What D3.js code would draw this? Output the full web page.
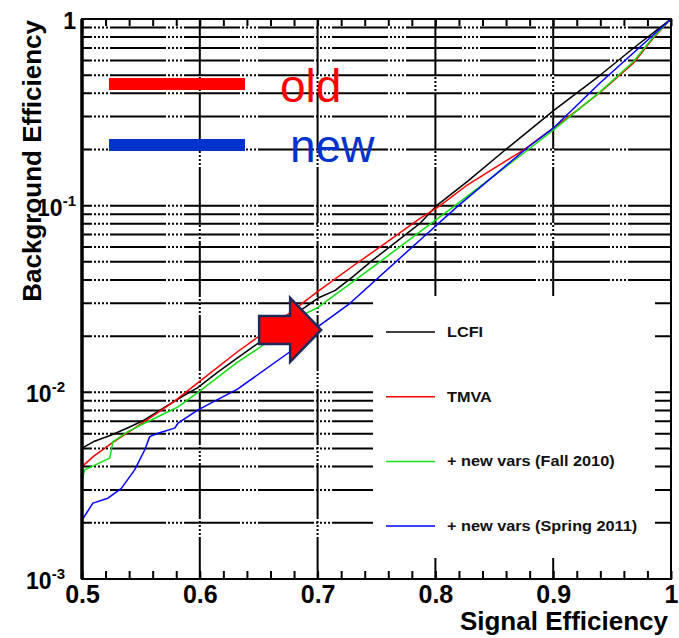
<!DOCTYPE html>
<html>
<head>
<meta charset="utf-8">
<script src="https://cdn.jsdelivr.net/npm/d3@7/dist/d3.min.js"></script>
<style>
	body { margin: 0; background: #fff; }
	text { font-family: "Liberation Sans", Arial, Helvetica, sans-serif; }
</style>
</head>
<body>
<div id="chart"></div>
<script>
// ROC curves: signal efficiency vs background efficiency
var sig_lcfi= [0.500, 0.510, 0.525, 0.540, 0.553, 0.570, 0.585, 0.598, 0.615, 0.632, 0.651, 0.668, 0.685, 0.700, 0.715, 0.730, 0.747, 0.776, 0.787, 0.801, 0.827, 0.861, 0.900, 0.940, 0.968, 1.000];
var bkg_lcfi= [0.00502, 0.00545, 0.00591, 0.00650, 0.00711, 0.00830, 0.00950, 0.01056, 0.0128, 0.0153, 0.0186, 0.0225, 0.0273, 0.0319, 0.0352, 0.0417, 0.0512, 0.0711, 0.0805, 0.100, 0.1345, 0.203, 0.322, 0.501, 0.697, 1.0];

var sig_tmva= [0.500, 0.510, 0.525, 0.553, 0.578, 0.598, 0.632, 0.651, 0.685, 0.700, 0.730, 0.760, 0.787, 0.804, 0.827, 0.850, 0.875, 0.900, 0.920, 0.940, 0.968, 0.985, 1.000];
var bkg_tmva= [0.0040, 0.00455, 0.00533, 0.00697, 0.00891, 0.0112, 0.0165, 0.0201, 0.0293, 0.0346, 0.0475, 0.0645, 0.0856, 0.100, 0.129, 0.159, 0.199, 0.260, 0.323, 0.405, 0.580, 0.790, 1.0];

var sig_fall= [0.500, 0.5023, 0.5235, 0.5263, 0.539, 0.553, 0.5815, 0.5985, 0.632, 0.651, 0.685, 0.700, 0.750, 0.787, 0.8166, 0.850, 0.8803, 0.900, 0.940, 0.968, 0.985, 1.000];
var bkg_fall= [0.0034, 0.00384, 0.00444, 0.00544, 0.00616, 0.00683, 0.00835, 0.0100, 0.0145, 0.0174, 0.0256, 0.0284, 0.0485, 0.0726, 0.100, 0.145, 0.203, 0.254, 0.408, 0.590, 0.800, 1.0];

var sig_spring= [0.500, 0.5093, 0.522, 0.5334, 0.5447, 0.5532, 0.5575, 0.5645, 0.5787, 0.5815, 0.5985, 0.632, 0.6766, 0.6992, 0.7275, 0.787, 0.8195, 0.8775, 0.900, 0.9397, 0.968, 1.000];
var bkg_spring= [0.00207, 0.00255, 0.00271, 0.00306, 0.00384, 0.00491, 0.00579, 0.00604, 0.00643, 0.00683, 0.00805, 0.0104, 0.0165, 0.0222, 0.0300, 0.0655, 0.100, 0.203, 0.260, 0.454, 0.657, 1.0];

var legend_names= ["LCFI", "TMVA", "+ new vars (Fall 2010)", "+ new vars (Spring 2011)"];
var x_ticks= [0.5, 0.6, 0.7, 0.8, 0.9, 1];
var x_tick_labels= ["0.5", "0.6", "0.7", "0.8", "0.9", "1"];
var y_ticks= [1, 0.1, 0.01, 0.001];
var y_tick_base= ["1", "10", "10", "10"];
var y_tick_exp= ["", "-1", "-2", "-3"];
var notes= ["old", "new"];

var curve_colors= ["#000000", "#ff0000", "#11e011", "#0000ff"];
var note_colors= ["#ff0000", "#0033cc"];

var width= 679, height= 638;
var p_left= 82, p_right= 671, p_top= 19, p_bottom= 579;

var x= d3.scaleLinear().domain([0.5, 1]).range([p_left, p_right]);
var y= d3.scaleLog().domain([0.001, 1]).range([p_bottom, p_top]);

var svg= d3.select("#chart")
	.append("svg")
	.attr("width", width)
	.attr("height", height);

svg.append("rect")
	.attr("width", width)
	.attr("height", height)
	.attr("fill", "#fff");

svg.append("clipPath")
	.attr("id", "plot_clip")
	.append("rect")
	.attr("x", p_left)
	.attr("y", p_top)
	.attr("width", p_right- p_left)
	.attr("height", p_bottom- p_top);

// grid (dash with dotted gaps, like the root output)
var grid_dash= "56,2,2,2,2,2,2,2,2,2";
var h_grid= y.ticks().filter(function(d) { return d> 0.0011 && d< 0.99; });
var v_grid= x_ticks.filter(function(d) { return d> 0.5 && d< 1; });

svg.append("g")
	.selectAll("line")
	.data(h_grid)
	.enter()
	.append("line")
		.attr("x1", p_left)
		.attr("x2", p_right)
		.attr("y1", function(d) { return y(d); })
		.attr("y2", function(d) { return y(d); })
		.attr("stroke", "#000")
		.attr("stroke-width", 2)
		.attr("stroke-dasharray", grid_dash)
		.attr("stroke-dashoffset", 46);

svg.append("g")
	.selectAll("line")
	.data(v_grid)
	.enter()
	.append("line")
		.attr("x1", function(d) { return x(d); })
		.attr("x2", function(d) { return x(d); })
		.attr("y1", p_top)
		.attr("y2", p_bottom)
		.attr("stroke", "#000")
		.attr("stroke-width", 2)
		.attr("stroke-dasharray", grid_dash);

// minor ticks top and bottom
var minor_x= d3.range(26).map(function(i) { return 0.5+ i*0.02; });

var bottom_ticks= svg.append("g")
	.attr("transform", "translate(0," + p_bottom + ")")
	.call(d3.axisBottom(x).tickValues(minor_x).tickSize(-8).tickFormat(""));
var top_ticks= svg.append("g")
	.attr("transform", "translate(0," + p_top + ")")
	.call(d3.axisTop(x).tickValues(minor_x).tickSize(-7).tickFormat(""));
[bottom_ticks, top_ticks].forEach(function(g) {
	g.select(".domain").remove();
	g.selectAll("line").attr("stroke", "#000").attr("stroke-width", 2);
});

// curves
var series= [[sig_lcfi, bkg_lcfi], [sig_tmva, bkg_tmva], [sig_fall, bkg_fall], [sig_spring, bkg_spring]];
var line= d3.line()
	.x(function(d) { return x(d[0]); })
	.y(function(d) { return y(d[1]); });

var curves= svg.append("g").attr("clip-path", "url(#plot_clip)");
for ((i= 0); (i< series.length); (i++)) {
	var pts= series[i][0].map(function(s, j) { return [s, series[i][1][j]]; });
	curves.append("path")
		.datum(pts)
		.attr("d", line)
		.attr("fill", "none")
		.attr("stroke", curve_colors[i])
		.attr("stroke-width", 1.5)
		.attr("stroke-linejoin", "round");
}

// legend box
var leg_x= 373, leg_y= 296;
svg.append("rect")
	.attr("x", leg_x)
	.attr("y", leg_y)
	.attr("width", 282)
	.attr("height", 262)
	.attr("fill", "#fff");

for ((i= 0); (i< legend_names.length); (i++)) {
	var ly= 332+ i*64.7;
	svg.append("line")
		.attr("x1", 386)
		.attr("x2", 435)
		.attr("y1", ly)
		.attr("y2", ly)
		.attr("stroke", curve_colors[i])
		.attr("stroke-width", 1.5);
	svg.append("text")
		.attr("x", 447)
		.attr("y", ly+ 5)
		.attr("font-size", "15.5px")
		.attr("font-weight", "bold")
		.attr("fill", "#111")
		.attr("transform", "translate(447," + (ly+ 5) + ") scale(1.05,1) translate(-447," + (-(ly+ 5)) + ")")
		.text(legend_names[i]);
}

// frame
svg.append("rect")
	.attr("x", p_left)
	.attr("y", p_top)
	.attr("width", p_right- p_left)
	.attr("height", p_bottom- p_top)
	.attr("fill", "none")
	.attr("stroke", "#000")
	.attr("stroke-width", 2);
svg.append("line")
	.attr("x1", p_left)
	.attr("x2", p_left)
	.attr("y1", p_top)
	.attr("y2", p_bottom)
	.attr("stroke", "#000")
	.attr("stroke-width", 3.5);

// x labels
var x_axis= svg.append("g")
	.attr("transform", "translate(0," + p_bottom + ")")
	.call(d3.axisBottom(x).tickValues(x_ticks).tickSize(0).tickPadding(6)
		.tickFormat(function(d, i) { return x_tick_labels[i]; }));
x_axis.select(".domain").remove();
x_axis.selectAll("text")
	.attr("font-family", "Liberation Sans, Arial, sans-serif")
	.attr("font-size", "25px")
	.attr("font-weight", "bold")
	.attr("fill", "#000");

// y labels 10^n
var y_labels= svg.append("g")
	.selectAll("text")
	.data(y_ticks)
	.enter()
	.append("text")
		.attr("x", function(d) { return d> 0.05 ? p_left- 6 : p_left- 17; })
		.attr("y", function(d) { return y(d)+ 10; })
		.attr("text-anchor", "end")
		.attr("font-size", "23px")
		.attr("font-weight", "bold")
		.attr("fill", "#000");
y_labels.append("tspan")
	.text(function(d, i) { return y_tick_base[i]; });
y_labels.append("tspan")
	.attr("dy", -10)
	.attr("font-size", "15px")
	.text(function(d, i) { return y_tick_exp[i]; });

// axis titles
svg.append("text")
	.attr("x", 668)
	.attr("y", 630)
	.attr("text-anchor", "end")
	.attr("font-size", "26px")
	.attr("font-weight", "bold")
	.text("Signal Efficiency");

svg.append("text")
	.attr("transform", "translate(41,20) rotate(-90)")
	.attr("text-anchor", "end")
	.attr("font-size", "26px")
	.attr("font-weight", "bold")
	.text("Background Efficiency");

// old / new annotation
for ((i= 0); (i< notes.length); (i++)) {
	svg.append("rect")
		.attr("x", 109)
		.attr("y", 78+ i*61)
		.attr("width", 136)
		.attr("height", 12)
		.attr("fill", note_colors[i]);
	svg.append("text")
		.attr("x", 280+ i*10)
		.attr("y", 102+ i*60)
		.attr("font-size", "46px")
		.attr("fill", note_colors[i])
		.text(notes[i]);
}

// red block arrow pointing at the new curve
var tip_x= x(0.703), tip_y= y(0.0216);
var arrow_pts= [[-62,-14],[-31,-14],[-31,-32],[0,0],[-31,32],[-31,14],[-62,14]];
svg.append("polygon")
	.attr("points", arrow_pts.map(function(p) { return (tip_x+ p[0]) + "," + (tip_y+ p[1]); }).join(" "))
	.attr("fill", "#ff0000")
	.attr("stroke", "#1f2a5c")
	.attr("stroke-width", 2.5)
	.attr("stroke-linejoin", "miter");
</script>
</body>
</html>
